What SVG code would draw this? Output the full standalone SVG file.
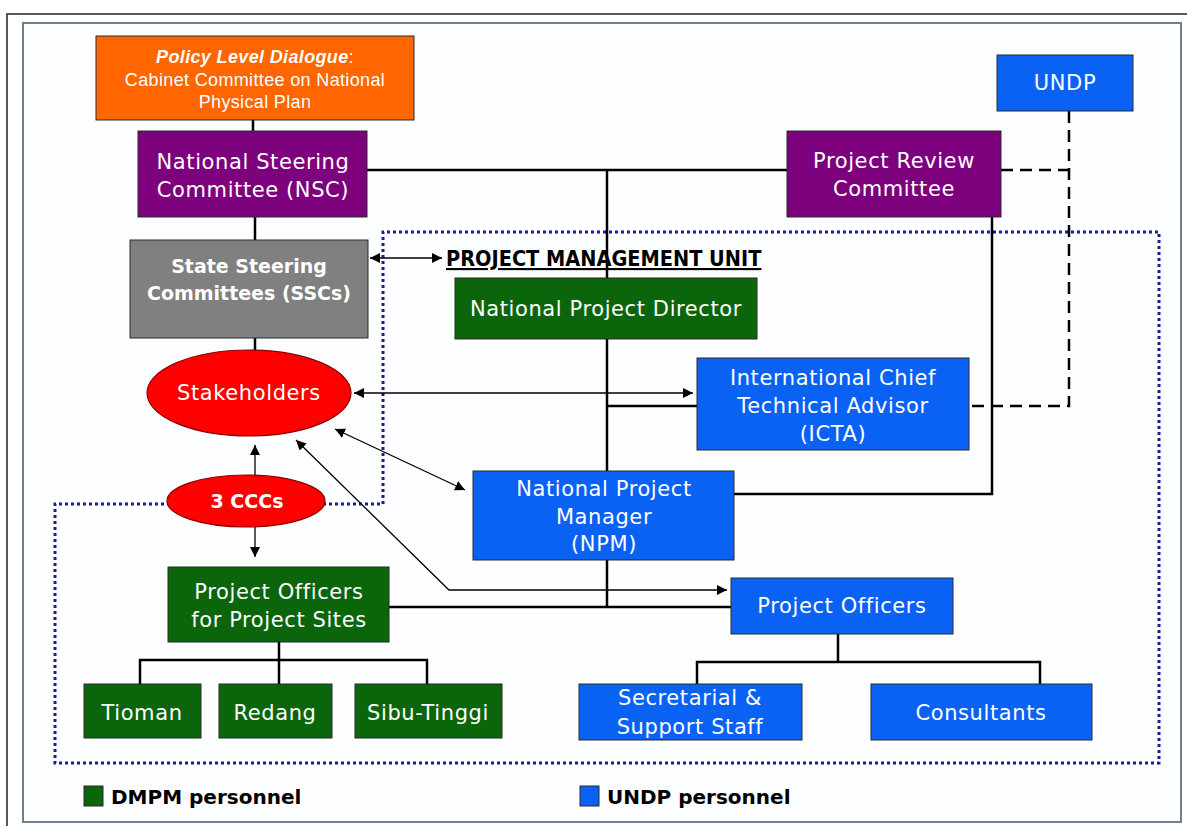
<svg xmlns="http://www.w3.org/2000/svg" width="1187" height="826" viewBox="0 0 1187 826">
  <defs>
    <style>
      .box { stroke: #2a2a2a; stroke-width: 1; }
      .orange { fill: #FF6600; }
      .purple { fill: #7D007D; }
      .grey { fill: #808080; }
      .green { fill: #0B650B; }
      .blue { fill: #0A62F5; }
      .red { fill: #FF0000; stroke: #8B0000; stroke-width: 1.2; }
      .lbl { font-family: "DejaVu Sans", sans-serif; font-size: 21px; letter-spacing: 0.6px; fill: #ffffff; text-anchor: middle; }
      .lblb { font-weight: bold; font-size: 19px; letter-spacing: 0px; }
      .arial { font-family: "Liberation Sans", Arial, sans-serif; font-size: 18px; letter-spacing: 0.35px; fill: #ffffff; text-anchor: middle; }
      .link { stroke: #000; stroke-width: 2.5; fill: none; }
      .thin { stroke: #000; stroke-width: 1.3; fill: none; }
      .dash { stroke: #000; stroke-width: 2.5; fill: none; stroke-dasharray: 12 7; }
      .pmu { stroke: #1A1A9C; stroke-width: 3; fill: none; stroke-dasharray: 3 3; }
      .legend { font-family: "DejaVu Sans", sans-serif; font-weight: bold; font-size: 20px; fill: #000; }
      .title { font-family: "DejaVu Sans Condensed", "DejaVu Sans", sans-serif; font-stretch: condensed; font-weight: bold; font-size: 21.5px; fill: #000; text-decoration: underline; }
    </style>
    <marker id="arr" viewBox="0 0 10 10" refX="10" refY="5" markerWidth="10" markerHeight="10" markerUnits="userSpaceOnUse" orient="auto-start-reverse">
      <path d="M0,0 L10,5 L0,10 z" fill="#000"/>
    </marker>
  </defs>

  <!-- page frames -->
  <rect x="0" y="0" width="1187" height="826" fill="#ffffff"/>
  <path d="M7,826 V14 H1187" stroke="#222" stroke-width="1.5" fill="none"/>
  <rect x="23" y="23" width="1158" height="799" fill="#fdfeff" stroke="#6f7f8f" stroke-width="2"/>

  <!-- project management unit boundary -->
  <path class="pmu" d="M383,504 V232 H1159 V763 H55 V504 Z"/>

  <!-- connectors -->
  <g id="connectors">
    <line class="link" x1="253" y1="120" x2="253" y2="131"/>
    <line class="link" x1="255" y1="217" x2="255" y2="240"/>
    <line class="link" x1="255" y1="338" x2="255" y2="351"/>
    <line class="link" x1="367" y1="170" x2="787" y2="170"/>
    <line class="link" x1="607" y1="170" x2="607" y2="278"/>
    <line class="link" x1="607" y1="339" x2="607" y2="471"/>
    <line class="link" x1="607" y1="406" x2="697" y2="406"/>
    <path class="link" d="M992,217 V494 H734"/>
    <line class="link" x1="607" y1="560" x2="607" y2="607"/>
    <line class="link" x1="389" y1="607" x2="731" y2="607"/>
    <path class="link" d="M279,642 V684 M140,684 V660 H427 V684"/>
    <path class="link" d="M838,634 V662 M697,684 V662 H1040 V684"/>
    <path class="dash" d="M1001,170 H1069"/>
    <path class="dash" d="M1069,111 V406 H969"/>
    <line class="thin" x1="370" y1="258" x2="442" y2="258" marker-start="url(#arr)" marker-end="url(#arr)"/>
    <line class="thin" x1="354" y1="393" x2="693" y2="393" marker-start="url(#arr)" marker-end="url(#arr)"/>
    <line class="thin" x1="335" y1="429" x2="465" y2="490" marker-start="url(#arr)" marker-end="url(#arr)"/>
    <path class="thin" d="M296,440 L449,590 H727" marker-start="url(#arr)" marker-end="url(#arr)"/>
    <line class="thin" x1="255" y1="445" x2="255" y2="476" marker-start="url(#arr)"/>
    <line class="thin" x1="255" y1="527" x2="255" y2="557" marker-end="url(#arr)"/>
  </g>

  <!-- nodes -->
  <g id="policy">
    <rect class="box orange" x="96" y="36" width="318" height="84"/>
    <text class="arial" x="255" y="63"><tspan font-weight="bold" font-style="italic">Policy Level Dialogue</tspan>:</text>
    <text class="arial" x="255" y="86">Cabinet Committee on National</text>
    <text class="arial" x="255" y="108">Physical Plan</text>
  </g>
  <g id="nsc">
    <rect class="box purple" x="138" y="131" width="229" height="86"/>
    <text class="lbl" x="253" y="169">National Steering</text>
    <text class="lbl" x="253" y="197">Committee (NSC)</text>
  </g>
  <g id="prc">
    <rect class="box purple" x="787" y="131" width="214" height="86"/>
    <text class="lbl" x="894" y="168">Project Review</text>
    <text class="lbl" x="894" y="196">Committee</text>
  </g>
  <g id="undp">
    <rect class="box blue" x="997" y="55" width="136" height="56"/>
    <text class="lbl" x="1065" y="90">UNDP</text>
  </g>
  <g id="ssc">
    <rect class="box grey" x="130" y="240" width="238" height="98"/>
    <text class="lbl lblb" x="249" y="273">State Steering</text>
    <text class="lbl lblb" x="249" y="300">Committees (SSCs)</text>
  </g>
  <g id="stakeholders">
    <ellipse class="red" cx="249" cy="393" rx="102" ry="43"/>
    <text class="lbl" x="249" y="400">Stakeholders</text>
  </g>
  <g id="cccs">
    <ellipse class="red" cx="246" cy="501" rx="79" ry="26"/>
    <text class="lbl lblb" x="247" y="508">3 CCCs</text>
  </g>
  <g id="pmu-title">
    <text class="title" x="446" y="266">PROJECT MANAGEMENT UNIT</text>
  </g>
  <g id="npd">
    <rect class="box green" x="455" y="278" width="302" height="61"/>
    <text class="lbl" x="606" y="316">National Project Director</text>
  </g>
  <g id="icta">
    <rect class="box blue" x="697" y="358" width="272" height="92"/>
    <text class="lbl" x="833" y="385">International Chief</text>
    <text class="lbl" x="833" y="413">Technical Advisor</text>
    <text class="lbl" x="833" y="441">(ICTA)</text>
  </g>
  <g id="npm">
    <rect class="box blue" x="473" y="471" width="261" height="89"/>
    <text class="lbl" x="604" y="496">National Project</text>
    <text class="lbl" x="604" y="524">Manager</text>
    <text class="lbl" x="604" y="551">(NPM)</text>
  </g>
  <g id="po-sites">
    <rect class="box green" x="168" y="567" width="221" height="75"/>
    <text class="lbl" x="279" y="599">Project Officers</text>
    <text class="lbl" x="279" y="627">for Project Sites</text>
  </g>
  <g id="po">
    <rect class="box blue" x="731" y="578" width="222" height="56"/>
    <text class="lbl" x="842" y="613">Project Officers</text>
  </g>
  <g id="tioman">
    <rect class="box green" x="84" y="684" width="117" height="54"/>
    <text class="lbl" x="142" y="720">Tioman</text>
  </g>
  <g id="redang">
    <rect class="box green" x="219" y="684" width="113" height="54"/>
    <text class="lbl" x="275" y="720">Redang</text>
  </g>
  <g id="sibu">
    <rect class="box green" x="355" y="684" width="147" height="54"/>
    <text class="lbl" x="428" y="720">Sibu-Tinggi</text>
  </g>
  <g id="secretarial">
    <rect class="box blue" x="579" y="684" width="223" height="56"/>
    <text class="lbl" x="690" y="705">Secretarial &amp;</text>
    <text class="lbl" x="690" y="734">Support Staff</text>
  </g>
  <g id="consultants">
    <rect class="box blue" x="871" y="684" width="221" height="56"/>
    <text class="lbl" x="981" y="720">Consultants</text>
  </g>

  <!-- legend -->
  <g id="legend">
    <rect class="box green" x="84" y="786" width="19" height="20"/>
    <text class="legend" x="111" y="804">DMPM personnel</text>
    <rect class="box blue" x="580" y="786" width="19" height="20"/>
    <text class="legend" x="607" y="804">UNDP personnel</text>
  </g>
</svg>
